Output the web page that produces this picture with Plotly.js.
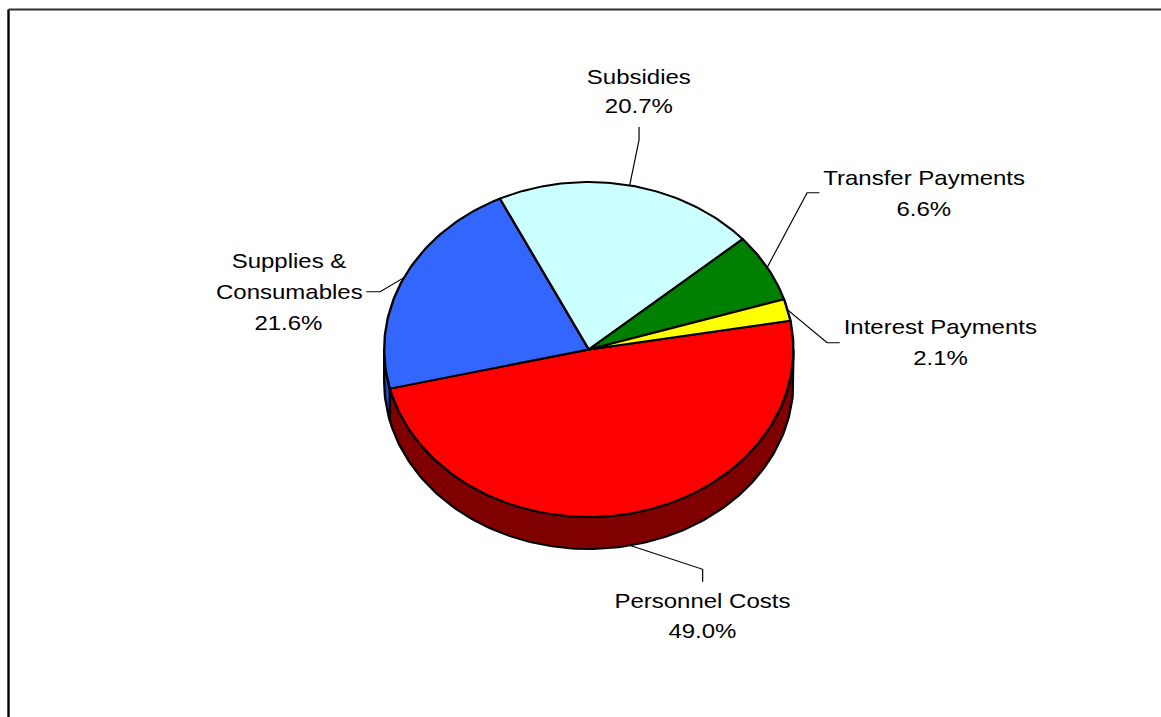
<!DOCTYPE html>
<html><head><meta charset="utf-8">
<script src="https://cdn.plot.ly/plotly-3.0.1.min.js"></script>
<style>
html,body{margin:0;padding:0;background:#fff;overflow:hidden;width:1161px;height:717px}
#chart{width:967.5px;height:717px;transform:scaleX(1.2);transform-origin:0 0}
</style></head><body><div id="chart"></div>
<script>
// ---- data ----
const categories = ['Personnel Costs', 'Supplies & Consumables', 'Subsidies', 'Transfer Payments', 'Interest Payments'];
const values = [49.0, 21.6, 20.7, 6.6, 2.1];
const labelLines = [['Personnel Costs'], ['Supplies &', 'Consumables'], ['Subsidies'], ['Transfer Payments'], ['Interest Payments']];

// ---- styles / layout constants ----
const topColors = ['#FF0000', '#3366FF', '#CCFFFF', '#008000', '#FFFF00'];
const sideColors = ['#800000', '#2447C8', '#66A0A0', '#004000', '#808000'];
const pie = {cx: 588.5, cy: 349.5, rx: 204.5, ry: 167.5, depth: 32, start: 9.9};
const labelPos = [
  {x: 702.5, ys: [601, 631], elbow: [702.3, 569.3], end: [702.3, 581.7], side: true},
  {x: 288.7, ys: [261, 292, 323], elbow: [380, 291.7], end: [366, 291.7], side: false},
  {x: 638.5, ys: [77, 106], elbow: [638.7, 140], end: [638.7, 127], side: false},
  {x: 923, ys: [178, 209], elbow: [806.7, 192.7], end: [819, 192.7], side: false},
  {x: 940, ys: [327, 358], elbow: [826.7, 342.7], end: [839.3, 342.7], side: false}
];
const FONT = {family: 'Liberation Sans, Arial, sans-serif', size: 20, color: '#000'};

const total = values.reduce((a, b) => a + b, 0);
const rad = d => d * Math.PI / 180;
const px = a => pie.cx + pie.rx * Math.cos(rad(a));
const py = (a, dz) => pie.cy - pie.ry * Math.sin(rad(a)) + (dz || 0);
function arc(a0, a1, dz) {
  const n = Math.max(2, Math.ceil(Math.abs(a1 - a0)));
  const xs = [], ys = [];
  for (let i = 0; i <= n; i++) { const a = a0 + (a1 - a0) * i / n; xs.push(px(a)); ys.push(py(a, dz)); }
  return [xs, ys];
}

// slice angles (clockwise from start)
const slices = [];
let cum = 0;
values.forEach((v, i) => {
  const hi = pie.start - cum / total * 360;
  cum += v;
  const lo = pie.start - cum / total * 360;
  slices.push({lo, hi, mid: (lo + hi) / 2});
});

const traces = [];
// side walls (front half only: angles in [-180, 0] modulo 360)
slices.forEach((s, i) => {
  for (let k = -1; k <= 1; k++) {
    const w0 = -180 + 360 * k, w1 = 0 + 360 * k;
    const a0 = Math.max(s.lo, w0), a1 = Math.min(s.hi, w1);
    if (a1 > a0) {
      const [tx, ty] = arc(a0, a1, 0);
      const [bx, by] = arc(a1, a0, pie.depth);
      traces.push({type: 'scatter', mode: 'lines', x: tx.concat(bx, [tx[0]]), y: ty.concat(by, [ty[0]]),
        fill: 'toself', fillcolor: sideColors[i], line: {color: '#000', width: 2}, hoverinfo: 'skip', showlegend: false});
    }
  }
});
// top faces
slices.forEach((s, i) => {
  const [ax, ay] = arc(s.hi, s.lo, 0);
  traces.push({type: 'scatter', mode: 'lines', name: categories[i],
    x: [pie.cx].concat(ax, [pie.cx]), y: [pie.cy].concat(ay, [pie.cy]),
    fill: 'toself', fillcolor: topColors[i], line: {color: '#000', width: 2}, hoverinfo: 'skip', showlegend: false});
});
// leader lines
const annotations = [];
slices.forEach((s, i) => {
  const L = labelPos[i];
  let sa = s.mid;
  const dz = (Math.sin(rad(sa)) < 0) ? pie.depth : 0;
  traces.push({type: 'scatter', mode: 'lines', x: [px(sa), L.elbow[0], L.end[0]], y: [py(sa, dz), L.elbow[1], L.end[1]],
    line: {color: '#000', width: 1}, hoverinfo: 'skip', showlegend: false});
  const pct = (values[i] / total * 100).toFixed(1) + '%';
  const lines = labelLines[i].concat([pct]);
  lines.forEach((t, j) => {
    annotations.push({x: L.x, y: L.ys[j], xref: 'x', yref: 'y', text: t, showarrow: false,
      xanchor: 'center', yanchor: 'middle', font: FONT});
  });
});

const layout = {
  width: 967.5, height: 717, autosize: false,
  margin: {l: 0, r: 0, t: 0, b: 0, pad: 0},
  paper_bgcolor: '#fff', plot_bgcolor: '#fff',
  xaxis: {range: [0, 1161], visible: false, fixedrange: true},
  yaxis: {range: [717, 0], visible: false, fixedrange: true},
  showlegend: false,
  annotations: annotations,
  shapes: [
    {type: 'line', xref: 'x', yref: 'y', x0: 8.5, x1: 8.5, y0: 9.5, y1: 717, line: {color: '#000', width: 2}},
    {type: 'line', xref: 'x', yref: 'y', x0: 8.5, x1: 1161, y0: 9.5, y1: 9.5, line: {color: '#333', width: 2}}
  ]
};
Plotly.newPlot('chart', traces, layout, {displayModeBar: false, staticPlot: true});
</script></body></html>
